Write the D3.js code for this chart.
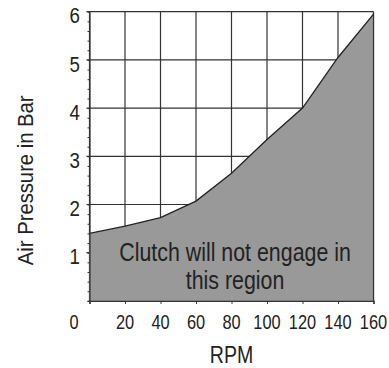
<!DOCTYPE html>
<html>
<head>
<meta charset="utf-8">
<script src="https://cdn.jsdelivr.net/npm/d3@7"></script>
<style>
  body { margin: 0; background: #fff; }
  svg text { font-family: "Liberation Sans", Arial, sans-serif; fill: #222; }
</style>
</head>
<body>
<svg id="chart" width="389" height="368"></svg>
<script>
// data
var rpm = [0, 20, 40, 60, 80, 100, 120, 140, 160];
var pressure = [1.4, 1.55, 1.73, 2.07, 2.65, 3.35, 4.0, 5.05, 5.95];
var xTicks = [0, 20, 40, 60, 80, 100, 120, 140, 160];
var yTicks = [1, 2, 3, 4, 5, 6];
var regionText = ["Clutch will not engage in", "this region"];

var margin = {top: 11.7, right: 15.5, bottom: 67.1, left: 89.5};
var width = 389 - margin.left - margin.right;
var height = 368 - margin.top - margin.bottom;

var svg = d3.select("#chart");
var g = svg.append("g")
    .attr("transform", "translate(" + margin.left + "," + margin.top + ")");

var x = d3.scaleLinear().domain([0, 160]).range([0, width]);
var y = d3.scaleLinear().domain([0, 6]).range([height, 0]);

var points = rpm.map(function (d, i) { return {rpm: d, p: pressure[i]}; });

// the original uses a condensed face, so squeeze Liberation Sans sideways
function place(px, py, sx, rot) {
    return "translate(" + px + "," + py + ")" + (rot ? " rotate(" + rot + ")" : "") + " scale(" + sx + ",1)";
}

// grid
g.append("g").selectAll("line")
    .data(xTicks)
    .enter().append("line")
    .attr("x1", d => x(d)).attr("x2", d => x(d))
    .attr("y1", 0).attr("y2", height)
    .attr("stroke", "#333").attr("stroke-width", 1.2);

g.append("g").selectAll("line")
    .data(yTicks)
    .enter().append("line")
    .attr("x1", -3).attr("x2", width)
    .attr("y1", d => y(d)).attr("y2", d => y(d))
    .attr("stroke", "#333").attr("stroke-width", 1.2);

// shaded region
var area = d3.area()
    .x(d => x(d.rpm))
    .y0(height)
    .y1(d => y(d.p));

g.append("path")
    .datum(points)
    .attr("d", area)
    .attr("fill", "#999");

var line = d3.line()
    .x(d => x(d.rpm))
    .y(d => y(d.p));

g.append("path")
    .datum(points)
    .attr("d", line)
    .attr("fill", "none")
    .attr("stroke", "#222")
    .attr("stroke-width", 1.3);

// right border over the fill
g.append("line")
    .attr("x1", x(160)).attr("x2", x(160))
    .attr("y1", 0).attr("y2", height)
    .attr("stroke", "#333").attr("stroke-width", 1.2);

// y axis: minor ticks every 0.2
var yAxis = d3.axisLeft(y)
    .tickValues(d3.range(0, 30).map(d => d / 5))
    .tickSize(2)
    .tickFormat("");
var yG = g.append("g").call(yAxis);
yG.select(".domain").attr("stroke", "#333").attr("stroke-width", 1.2);
yG.selectAll(".tick line").attr("stroke", "#333");

yG.selectAll(".ylab")
    .data(yTicks)
    .enter().append("text")
    .attr("transform", d => place(-9.5, y(d) + 4, 0.85))
    .attr("dy", "0.35em")
    .attr("text-anchor", "end")
    .style("font-size", "22px")
    .text(d => d);

// x axis
var xAxis = d3.axisBottom(x)
    .tickValues(xTicks)
    .tickSize(3)
    .tickFormat("");
var xG = g.append("g")
    .attr("transform", "translate(0," + height + ")")
    .call(xAxis);
xG.select(".domain").attr("stroke", "#333").attr("stroke-width", 1.4);
xG.selectAll(".tick line").attr("stroke", "#333");

xG.selectAll(".xlab")
    .data(xTicks)
    .enter().append("text")
    .attr("transform", d => place(x(d) + (d === 0 ? -15.5 : 0), 28.5, 0.78))
    .attr("text-anchor", "middle")
    .style("font-size", "21px")
    .text(d => d);

// axis titles
g.append("text")
    .attr("transform", place(width / 2, height + 62, 0.85))
    .attr("text-anchor", "middle")
    .style("font-size", "23px")
    .text("RPM");

g.append("text")
    .attr("transform", place(-56.5, y(3) + 24, 0.9, -90))
    .attr("text-anchor", "middle")
    .style("font-size", "22.5px")
    .text("Air Pressure in Bar");

// label inside region
g.append("text")
    .attr("text-anchor", "middle")
    .style("font-size", "25px")
    .attr("transform", place(x(82), 0, 0.855))
    .selectAll("tspan")
    .data(regionText)
    .enter().append("tspan")
    .attr("x", 0)
    .attr("y", (d, i) => y(1) + 8 + i * 28)
    .text(d => d);
</script>
</body>
</html>
